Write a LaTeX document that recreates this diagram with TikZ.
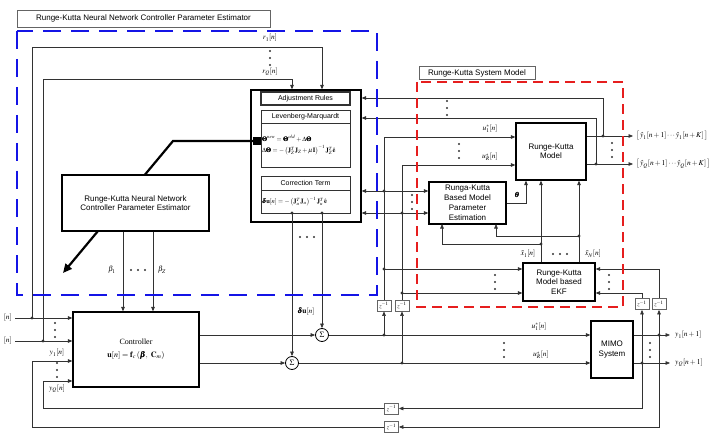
\documentclass[tikz,border=0pt]{standalone}
\usepackage{mathptmx}
\usepackage{bm}
\usepackage{fontspec}
\setmainfont{Liberation Sans}
\newfontfamily\serifrm{Liberation Serif}
\usetikzlibrary{arrows.meta,positioning,calc}
\definecolor{rkblue}{RGB}{20,20,230}
\definecolor{rkred}{RGB}{230,30,30}
\definecolor{rkgray}{RGB}{100,100,100}
\definecolor{rkline}{RGB}{50,50,50}
\tikzset{
  dotcol/.pic={\fill[rkline] (0,-7) circle (1.2pt) (0,0) circle (1.2pt) (0,7) circle (1.2pt);},
  dotrow/.pic={\fill[rkline] (-7,0) circle (1.2pt) (0,0) circle (1.2pt) (7,0) circle (1.2pt);}
}
\begin{document}
\begin{tikzpicture}[x=1pt, y=-1pt, font=\fontsize{8}{9.5}\selectfont,
  blk/.style={draw, line width=1.3pt, fill=white, align=center, inner sep=0pt, anchor=center},
  ttl/.style={draw=rkgray, line width=0.7pt, fill=white, inner sep=1pt},
  hdr/.style={draw=rkline, line width=0.6pt, minimum width=89pt, inner sep=0pt,
              font=\fontsize{7}{8.5}\selectfont},
  frm/.style={hdr, text width=87pt, inner sep=1pt, align=left, font=\fontsize{6.5}{11}\selectfont},
  sumnd/.style={draw, circle, line width=0.8pt, minimum size=13pt, inner sep=0pt, fill=white},
  dly/.style={draw=rkgray, line width=0.8pt, minimum width=14pt, minimum height=11pt,
              inner sep=0pt, fill=white, font=\fontsize{6}{7}\selectfont},
  lab/.style={font=\fontsize{7.5}{8.5}\selectfont, inner sep=1pt},
  sig/.style={-{Triangle[length=4.5pt,width=3.6pt]}, line width=0.6pt, draw=rkline}]
\useasboundingbox (0,0) rectangle (723,433);
% blocks
\node[ttl, minimum width=253pt, minimum height=17pt] (ttlrknn) at (143.5,18.5)
  {Runge-Kutta Neural Network Controller Parameter Estimator};
\node[ttl, minimum width=116pt, minimum height=13pt] (ttlsys) at (477,73) {Runge-Kutta System Model};
\node[blk, minimum width=110pt, minimum height=132pt] (adj) at (306,156) {};
\node[hdr, line width=1.2pt, minimum height=13pt] (rules) at (305.5,98.5) {Adjustment Rules};
\node[hdr, minimum height=13pt] (lmh) at (305.5,116.5) {Levenberg-Marquardt};
\node[frm, minimum height=44pt] (lmf) at (305.5,145)
  {$\bm{\Theta}^{new}=\bm{\Theta}^{old}+\Delta\bm{\Theta}$\\
   $\Delta\bm{\Theta}=-\left(\mathbf{J}_Z^T\mathbf{J}_Z+\mu\mathbf{I}\right)^{-1}\mathbf{J}_Z^T\hat{\mathbf{e}}$};
\node[hdr, minimum height=14pt] (cth) at (305.5,183) {Correction Term};
\node[frm, minimum height=23pt] (ctf) at (305.5,201.5)
  {$\bm{\delta}\mathbf{u}[n]=-\left(\mathbf{J}_u^T\mathbf{J}_u\right)^{-1}\mathbf{J}_u^T\hat{\mathbf{e}}$};
\node[blk, minimum width=70pt, minimum height=57pt] (rkm) at (551,151.5) {Runge-Kutta\\Model};
\node[blk, minimum width=77pt, minimum height=42pt, font=\fontsize{8}{10}\selectfont] (rkpe) at (467.5,203)
  {Runga-Kutta\\Based Model\\Parameter\\Estimation};
\node[blk, minimum width=72pt, minimum height=38pt] (ekf) at (559,282) {Runge-Kutta\\Model based\\EKF};
\node[blk, minimum width=42pt, minimum height=57pt] (mimo) at (612,349.5) {MIMO\\System};
\node[blk, minimum width=126pt, minimum height=75pt, font=\serifrm\fontsize{8}{13}\selectfont] (ctrl) at (136,349.5)
  {Controller\\$\mathbf{u}[n]=\mathbf{f}_c\left(\bm{\beta},\ \mathbf{C}_m\right)$};
\node[sumnd] (sum1) at (322,335) {$\Sigma$};
\node[sumnd] (sum2) at (292,363) {$\Sigma$};
\node[dly] (zA) at (384,305.5) {$z^{-1}$};
\node[dly] (zB) at (402,305.5) {$z^{-1}$};
\node[dly] (zC) at (642,304) {$z^{-1}$};
\node[dly] (zD) at (659,304) {$z^{-1}$};
\node[dly] (zE) at (391.5,408.5) {$z^{-1}$};
\node[dly] (zF) at (391.5,427) {$z^{-1}$};
% junctions and corners
\coordinate (in1) at (15,318);  \coordinate (in2) at (15,341);
\coordinate (j1) at (32,318);   \coordinate (j2) at (43,341);
\coordinate (r1c) at (322,47);  \coordinate (rQc) at (292,79);
\coordinate (fb1) at (32,361);  \coordinate (fbQ) at (43,381);
\coordinate (jy1) at (659,335); \coordinate (jyQ) at (642,363);
\coordinate (oy1) at (670,335); \coordinate (oyQ) at (670,363);
\coordinate (ju1) at (384,335); \coordinate (ju2) at (402,363);
\coordinate (tu1) at (384,137); \coordinate (tuR) at (402,165);
\coordinate (ja1) at (384,191); \coordinate (ja2) at (402,213);
\coordinate (je1) at (384,269); \coordinate (je2) at (402,293);
\coordinate (jh1) at (603,136); \coordinate (jh2) at (596,164);
\coordinate (oh1) at (633,136); \coordinate (oh2) at (633,164);
\coordinate (cf1) at (603,98);  \coordinate (cf2) at (596,118);
\coordinate (du1) at (322,213); \coordinate (du2) at (292,213);
\coordinate (th) at (526,203);
\coordinate (jx1) at (541,244); \coordinate (jxN) at (579,236);
\coordinate (pe1) at (442,224); \coordinate (pe2) at (496,224);
\coordinate (b1) at (123,0);    \coordinate (bZ) at (153,0);
\coordinate (kn) at (173,141);  \coordinate (kt) at (63,273);
% signals
\draw[sig] (in1) -- (in1 -| ctrl.west);
\draw[sig] (in2) -- (in2 -| ctrl.west);
\draw[sig] (j1) |- (r1c) -- (r1c |- adj.north);
\draw[sig] (j2) |- (rQc) -- (rQc |- adj.north);
\draw[sig] (ctrl.east |- sum1) -- (sum1);
\draw[sig] (ctrl.east |- sum2) -- (sum2);
\draw[sig] (sum1) -- (sum1 -| mimo.west);
\draw[sig] (sum2) -- (sum2 -| mimo.west);
\draw[sig] (du1) -- (sum1);
\draw[sig] (du2) -- (sum2);
\draw[sig] (mimo.east |- oy1) -- (oy1);
\draw[sig] (mimo.east |- oyQ) -- (oyQ);
\draw[sig] (jy1) |- (zF.east);
\draw[sig] (zF.west) -| (fb1) -- (fb1 -| ctrl.west);
\draw[sig] (jyQ) |- (zE.east);
\draw[sig] (zE.west) -| (fbQ) -- (fbQ -| ctrl.west);
\draw[sig] (jyQ) -- (zC.south);
\draw[sig] (jy1) -- (zD.south);
\draw[sig] (zC.north) |- (je2 -| ekf.east);
\draw[sig] (zD.north) |- (je1 -| ekf.east);
\draw[sig] (ju1) -- (zA.south);
\draw[sig] (ju2) -- (zB.south);
\draw[sig] (zA.north) -- (tu1) -- (tu1 -| rkm.west);
\draw[sig] (zB.north) -- (tuR) -- (tuR -| rkm.west);
\draw[sig] (ja1) -- (ja1 -| rkpe.west);
\draw[sig] (ja1) -- (ja1 -| adj.east);
\draw[sig] (ja2) -- (ja2 -| rkpe.west);
\draw[sig] (ja2) -- (ja2 -| adj.east);
\draw[sig] (je1) -- (je1 -| ekf.west);
\draw[sig] (je2) -- (je2 -| ekf.west);
\draw[sig] (rkm.east |- jh1) -- (oh1);
\draw[sig] (rkm.east |- jh2) -- (oh2);
\draw[sig] (jh1) -- (cf1) -- (cf1 -| adj.east);
\draw[sig] (jh2) -- (cf2) -- (cf2 -| adj.east);
\draw[sig] (rkpe.east) -| (th |- rkm.south);
\draw[sig] (jx1 |- ekf.north) -- (jx1 |- rkm.south);
\draw[sig] (jxN |- ekf.north) -- (jxN |- rkm.south);
\draw[sig] (jx1) -| (pe1);
\draw[sig] (jxN) -| (pe2);
\foreach \p in {j1,j2,jy1,jyQ,ju1,ju2,ja1,ja2,je1,je2,jh1,jh2,du1,du2,jx1,jxN}
  \fill[rkline] (\p) circle (1.7pt);
% adaptation arrow behind the estimator block
\node[fill, minimum size=8pt, inner sep=0pt] (sq) at (257,141) {};
\draw[line width=2.2pt, -{Triangle[length=9pt,width=8pt]}] (sq.center) -- (kn) -- (kt);
\node[blk, minimum width=147pt, minimum height=56pt] (rknn) at (135.5,203)
  {Runge-Kutta Neural Network\\Controller Parameter Estimator};
\draw[sig] (rknn.south -| b1) -- (ctrl.north -| b1);
\draw[sig] (rknn.south -| bZ) -- (ctrl.north -| bZ);
% dashed frames
\draw[rkblue, line width=2pt, dash pattern=on 18pt off 10pt] (17,31) rectangle (377,295);
\draw[rkred, line width=2pt, dash pattern=on 10pt off 6pt] (417,82) rectangle (623,307);
% labels
\node[lab] (lr1) at (270,38) {$r_1[n]$};
\node[lab] (lrQ) at (270,72) {$r_Q[n]$};
\node[lab, anchor=east] (lin1) at (13,318) {$[n]$};
\node[lab, anchor=east] (lin2) at (13,341) {$[n]$};
\node[lab] (ly1) at (57,353) {$y_1[n]$};
\node[lab] (lyQ) at (57,389) {$y_Q[n]$};
\node[lab] (lb1) at (112,270) {$\beta_1$};
\node[lab] (lbZ) at (162,270) {$\beta_Z$};
\node[lab] (ldu) at (306,312) {$\bm{\delta}\mathbf{u}[n]$};
\node[lab] (lu1a) at (490,129) {$u_1^*[n]$};
\node[lab] (luRa) at (490,157) {$u_R^*[n]$};
\node[lab] (lth) at (517,195) {$\bm{\theta}$};
\node[lab] (lx1) at (528,254) {$\tilde{x}_1[n]$};
\node[lab] (lxN) at (593,254) {$\tilde{x}_N[n]$};
\node[lab] (lu1b) at (539,327) {$u_1^*[n]$};
\node[lab] (luRb) at (541,355) {$u_R^*[n]$};
\node[lab, anchor=west] (ly1o) at (674,335) {$y_1[n+1]$};
\node[lab, anchor=west] (lyQo) at (674,363) {$y_Q[n+1]$};
\node[lab, anchor=west, inner sep=0pt] (lh1) at (636,136) {$\big[\,\hat{y}_1[n+1]\cdots\hat{y}_1[n+K]\,\big]$};
\node[lab, anchor=west, inner sep=0pt] (lh2) at (636,164) {$\big[\,\hat{y}_Q[n+1]\cdots\hat{y}_Q[n+K]\,\big]$};
% ellipsis dots
\pic at (270,58) {dotcol};
\pic at (55,330) {dotcol};
\pic at (57,370) {dotcol};
\pic at (138,270) {dotrow};
\pic at (307,237) {dotrow};
\pic at (447,108) {dotcol};
\pic at (459,151) {dotcol};
\pic at (412,202) {dotcol};
\pic at (495,282) {dotcol};
\pic at (609,282) {dotcol};
\pic at (612,150) {dotcol};
\pic at (560,254) {dotrow};
\pic at (504,350) {dotcol};
\pic at (650,350) {dotcol};
\end{tikzpicture}
\end{document}
